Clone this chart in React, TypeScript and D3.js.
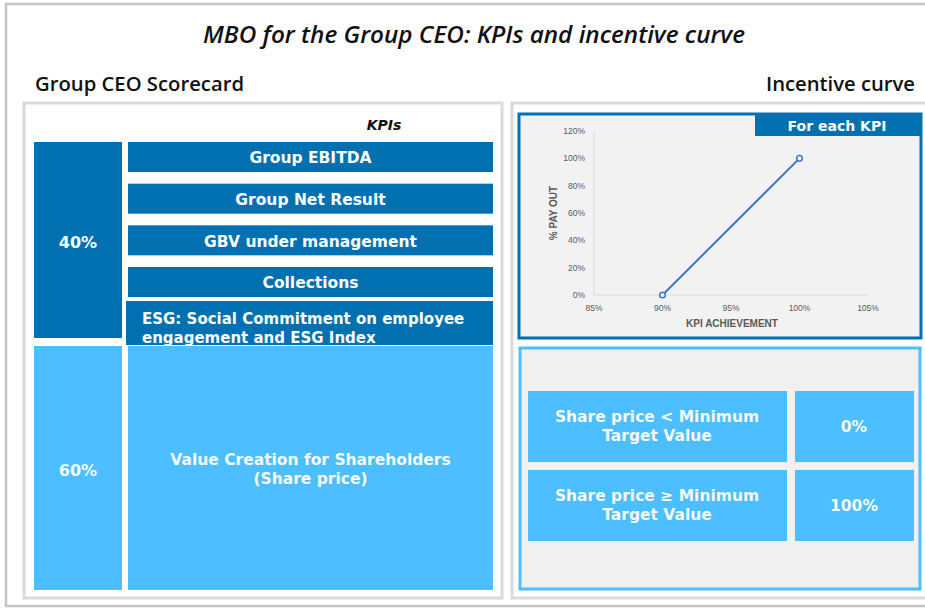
import React from 'react';
import * as d3 from 'd3';

const KPI_LABELS = ['Group EBITDA', 'Group Net Result', 'GBV under management', 'Collections'];
const ESG_LINES = ['ESG: Social Commitment on employee', 'engagement and ESG Index'];
const WEIGHTS = ['40%', '60%'];
const VALUE_LINES = ['Value Creation for Shareholders', '(Share price)'];

const ACHIEVEMENT = [0.9, 1.0];
const PAYOUT = [0, 1.0];
const X_TICKS = [0.85, 0.9, 0.95, 1.0, 1.05];
const Y_TICKS = [0, 0.2, 0.4, 0.6, 0.8, 1.0, 1.2];

const RULE_LABELS = [
  ['Share price < Minimum', 'Target Value'],
  ['Share price \u2265 Minimum', 'Target Value'],
];
const RULE_PAYOUTS = ['0%', '100%'];

const DARK = '#0070b0';
const LIGHT = '#4dbeff';
const PANEL = '#dadada';
const BOX_FONT = '"DejaVu Sans", Verdana, sans-serif';
const HEAD_FONT = '"Open Sans", "Noto Sans", sans-serif';
const AXIS_FONT = '"Liberation Sans", Arial, sans-serif';

export default function App() {
  const width = 925;
  const height = 610;

  // scorecard layout
  const kpiY = d3.scaleBand<string>().domain(KPI_LABELS).range([142, 297]).paddingInner(0.28);
  const kpiX0 = 128, kpiX1 = 493;
  const wX0 = 34, wX1 = 122;
  const esgTop = 301, esgBottom = 345;
  const lowTop = 346, lowBottom = 590;

  // incentive curve
  const x = d3.scaleLinear().domain([0.85, 1.05]).range([594, 868]);
  const y = d3.scaleLinear().domain([0, 1.2]).range([295, 131]);
  const line = d3.line<number>()
    .x((_, i) => x(ACHIEVEMENT[i]))
    .y(d => y(d));
  const pct = d3.format('.0%');

  // rules table
  const ruleY = d3.scaleBand<number>().domain([0, 1]).range([391, 541]).paddingInner(0.1);

  return (
    <svg width={width} height={height} viewBox={`0 0 ${width} ${height}`}
      style={{ position: 'absolute', left: 0, top: 0, background: '#fff' }}>
      {/* outer frame */}
      <rect x={6} y={4} width={930} height={602} fill="#fff" stroke="#c4c4c4" strokeWidth={2.5} />

      <text x={474} y={43} textAnchor="middle" fontFamily={HEAD_FONT} fontStyle="italic"
        fontWeight={600} fontSize={23} fill="#111" textLength={542} lengthAdjust="spacingAndGlyphs">
        MBO for the Group CEO: KPIs and incentive curve
      </text>
      <text x={35} y={91} fontFamily={HEAD_FONT} fontWeight={600} fontSize={19} fill="#111"
        textLength={209} lengthAdjust="spacingAndGlyphs">Group CEO Scorecard</text>
      <text x={915} y={91} textAnchor="end" fontFamily={HEAD_FONT} fontWeight={600} fontSize={19}
        fill="#111" textLength={149} lengthAdjust="spacingAndGlyphs">Incentive curve</text>

      {/* left panel */}
      <rect x={24} y={103} width={478} height={495} fill="#fff" stroke={PANEL} strokeWidth={3} />
      <text x={384} y={130} textAnchor="middle" fontFamily={BOX_FONT} fontStyle="italic"
        fontWeight="bold" fontSize={14} fill="#111">KPIs</text>

      <rect x={wX0} y={142} width={wX1 - wX0} height={esgBottom - 142 - 7} fill={DARK} />
      <text x={(wX0 + wX1) / 2} y={242} dy="0.35em" textAnchor="middle" fontFamily={BOX_FONT}
        fontWeight="bold" fontSize={16} fill="#fff">{WEIGHTS[0]}</text>

      {KPI_LABELS.map(k => (
        <g key={k}>
          <rect x={kpiX0} y={kpiY(k)} width={kpiX1 - kpiX0} height={kpiY.bandwidth()} fill={DARK} />
          <text x={(kpiX0 + kpiX1) / 2} y={(kpiY(k) ?? 0) + kpiY.bandwidth() / 2 + 1} dy="0.35em"
            textAnchor="middle" fontFamily={BOX_FONT} fontWeight="bold" fontSize={15.5} fill="#fff">{k}</text>
        </g>
      ))}

      <rect x={kpiX0 - 2} y={esgTop} width={kpiX1 - kpiX0 + 2} height={esgBottom - esgTop} fill={DARK} />
      {ESG_LINES.map((t, i) => (
        <text key={t} x={142} y={324 + i * 18.5} fontFamily={BOX_FONT} fontWeight="bold"
          fontSize={15} fill="#fff">{t}</text>
      ))}

      <rect x={wX0} y={lowTop} width={wX1 - wX0} height={lowBottom - lowTop} fill={LIGHT} />
      <rect x={kpiX0} y={lowTop} width={kpiX1 - kpiX0} height={lowBottom - lowTop} fill={LIGHT} />
      <text x={(wX0 + wX1) / 2} y={470} dy="0.35em" textAnchor="middle" fontFamily={BOX_FONT}
        fontWeight="bold" fontSize={16} fill="#f4faff">{WEIGHTS[1]}</text>
      {VALUE_LINES.map((t, i) => (
        <text key={t} x={(kpiX0 + kpiX1) / 2} y={460 + i * 19} dy="0.35em" textAnchor="middle"
          fontFamily={BOX_FONT} fontWeight="bold" fontSize={15.5} fill="#f4faff">{t}</text>
      ))}

      {/* right panel */}
      <rect x={512} y={103} width={420} height={495} fill="#fff" stroke={PANEL} strokeWidth={3} />

      <rect x={519} y={114} width={402} height={224} fill="#f2f2f2" stroke={DARK} strokeWidth={3} />
      <rect x={755} y={115} width={165} height={21} fill={DARK} />
      <text x={837} y={126} dy="0.35em" textAnchor="middle" fontFamily={BOX_FONT} fontWeight="bold"
        fontSize={14} fill="#fff">For each KPI</text>

      <line x1={x(0.85)} x2={x(0.85)} y1={y(1.2)} y2={y(0)} stroke="#d9d9d9" strokeWidth={1} />
      <line x1={x(0.85)} x2={x(1.05)} y1={y(0)} y2={y(0)} stroke="#d9d9d9" strokeWidth={1} />
      {Y_TICKS.map(t => (
        <text key={t} x={585} y={y(t)} dy="0.35em" textAnchor="end" fontFamily={AXIS_FONT}
          fontSize={8.5} fill="#595959">{pct(t)}</text>
      ))}
      {X_TICKS.map(t => (
        <text key={t} x={x(t)} y={308} dy="0.35em" textAnchor="middle" fontFamily={AXIS_FONT}
          fontSize={8.5} fill="#595959">{pct(t)}</text>
      ))}
      <text x={732} y={323} dy="0.35em" textAnchor="middle" fontFamily={AXIS_FONT} fontWeight="bold"
        fontSize={10} fill="#595959">KPI ACHIEVEMENT</text>
      <text transform={`translate(553,${(y(0) + y(1.2)) / 2}) rotate(-90)`} dy="0.35em"
        textAnchor="middle" fontFamily={AXIS_FONT} fontWeight="bold" fontSize={10}
        fill="#595959">% PAY OUT</text>

      <path d={line(PAYOUT) ?? ''} fill="none" stroke="#4472c4" strokeWidth={2} />
      {PAYOUT.map((p, i) => (
        <circle key={i} cx={x(ACHIEVEMENT[i])} cy={y(p)} r={2.8} fill="#fff" stroke="#4472c4"
          strokeWidth={1.5} />
      ))}

      <rect x={520} y={348} width={400} height={241} fill="#f0f0f0" stroke={LIGHT} strokeWidth={3} />
      {RULE_LABELS.map((lines, i) => {
        const top = ruleY(i) ?? 0;
        const bh = ruleY.bandwidth();
        return (
          <g key={i}>
            <rect x={528} y={top} width={259} height={bh} fill={LIGHT} />
            <rect x={795} y={top} width={119} height={bh} fill={LIGHT} />
            {lines.map((t, j) => (
              <text key={j} x={657} y={top + bh / 2 - 9.5 + j * 19} dy="0.35em" textAnchor="middle"
                fontFamily={BOX_FONT} fontWeight="bold" fontSize={15.5} fill="#f4faff">{t}</text>
            ))}
            <text x={854} y={top + bh / 2} dy="0.35em" textAnchor="middle" fontFamily={BOX_FONT}
              fontWeight="bold" fontSize={15.5} fill="#f4faff">{RULE_PAYOUTS[i]}</text>
          </g>
        );
      })}
    </svg>
  );
}
